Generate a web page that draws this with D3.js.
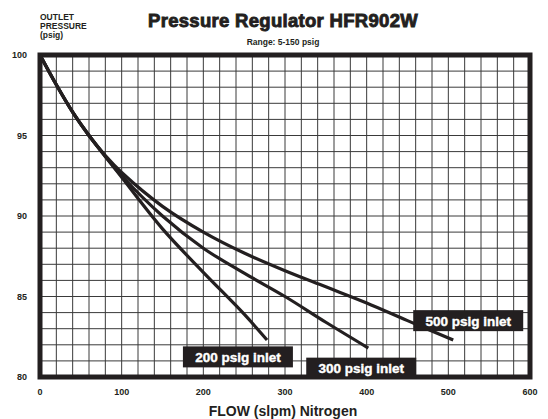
<!DOCTYPE html>
<html>
<head>
<meta charset="utf-8">
<script src="https://cdn.jsdelivr.net/npm/d3@7"></script>
<style>
  body { margin: 0; background: #fff; }
  svg { display: block; font-family: "Liberation Sans", Arial, sans-serif; }
</style>
</head>
<body>
<div id="chart"></div>
<script>
// ====================
// Data
// ====================
const xTicks = [0, 100, 200, 300, 400, 500, 600];
const yTicks = [80, 85, 90, 95, 100];

// flow (slpm) / outlet pressure (psig) for each inlet pressure
const flow200 = [0, 20, 40, 60, 80, 100, 150, 200, 250, 278];
const psig200 = [100, 98.15, 96.45, 95.0, 93.7, 92.4, 89.2, 86.5, 83.9, 82.3];

const flow300 = [0, 20, 40, 60, 80, 100, 150, 200, 250, 300, 350, 402];
const psig300 = [100, 98.15, 96.45, 95.0, 93.7, 92.5, 90.0, 88.0, 86.45, 85.0, 83.4, 81.8];

const flow500 = [0, 20, 40, 60, 80, 100, 150, 200, 250, 300, 350, 400, 450, 506];
const psig500 = [100, 98.15, 96.45, 95.0, 93.75, 92.7, 90.6, 89.0, 87.7, 86.6, 85.6, 84.6, 83.5, 82.3];

const seriesLabels = ["200 psig inlet", "300 psig inlet", "500 psig inlet"];

// ====================
// Chart
// ====================
const width = 548, height = 419;
const svg = d3.select("#chart").append("svg")
    .attr("width", width)
    .attr("height", height);

const x = d3.scaleLinear().domain([0, 600]).range([40, 530]);
const y = d3.scaleLinear().domain([80, 100]).range([377, 55]);

// grid
const grid = svg.append("g").attr("stroke", "#3a3a3a").attr("stroke-width", 1);
grid.selectAll("line.v")
    .data(d3.range(20, 600, 20))
    .join("line")
    .attr("x1", d => x(d)).attr("x2", d => x(d))
    .attr("y1", y(100)).attr("y2", y(80));
grid.selectAll("line.h")
    .data(d3.range(81, 100, 1))
    .join("line")
    .attr("y1", d => y(d)).attr("y2", d => y(d))
    .attr("x1", x(0)).attr("x2", x(600));

// frame
svg.append("rect")
    .attr("x", x(0)).attr("y", y(100))
    .attr("width", x(600) - x(0))
    .attr("height", y(80) - y(100))
    .attr("fill", "none")
    .attr("stroke", "#231f20")
    .attr("stroke-width", 5);

// curves
const line = d3.line()
    .x(d => x(d[0]))
    .y(d => y(d[1]))
    .curve(d3.curveCatmullRom.alpha(0.5));

const series = [
    d3.zip(flow200, psig200),
    d3.zip(flow300, psig300),
    d3.zip(flow500, psig500)
];

svg.append("g").selectAll("path")
    .data(series)
    .join("path")
    .attr("d", line)
    .attr("fill", "none")
    .attr("stroke", "#231f20")
    .attr("stroke-width", 3.2)
    .attr("stroke-linecap", "butt");

// label boxes (anchored by data: flow at box left, psig at box centre)
const labelPos = [[175, 81.25], [326, 80.55], [457, 83.5]];
const labels = svg.append("g");
labelPos.forEach((p, i) => {
    const g = labels.append("g")
        .attr("transform", `translate(${x(p[0])},${y(p[1])})`);
    g.append("rect")
        .attr("x", 0).attr("y", -10.5)
        .attr("width", 110).attr("height", 21)
        .attr("fill", "#231f20");
    g.append("text")
        .attr("x", 55).attr("y", 5)
        .attr("text-anchor", "middle")
        .attr("fill", "#fff")
        .attr("stroke", "#fff")
        .attr("stroke-width", 0.4)
        .attr("font-weight", "bold")
        .attr("font-size", 13.5)
        .text(seriesLabels[i]);
});

// axes labels
svg.append("g").selectAll("text")
    .data(xTicks)
    .join("text")
    .attr("x", d => x(d))
    .attr("y", 395)
    .attr("text-anchor", "middle")
    .attr("font-size", 9)
    .attr("font-weight", "bold")
    .attr("fill", "#231f20")
    .text(d => d);

svg.append("g").selectAll("text")
    .data(yTicks)
    .join("text")
    .attr("x", 27)
    .attr("y", d => y(d) + 3)
    .attr("text-anchor", "end")
    .attr("font-size", 9)
    .attr("font-weight", "bold")
    .attr("fill", "#231f20")
    .text(d => d);

// titles
svg.append("text")
    .attr("x", 283).attr("y", 27)
    .attr("text-anchor", "middle")
    .attr("font-size", 18.5)
    .attr("font-weight", "bold")
    .attr("fill", "#231f20")
    .attr("stroke", "#231f20")
    .attr("stroke-width", 0.9)
    .attr("letter-spacing", 0.3)
    .text("Pressure Regulator HFR902W");

svg.append("text")
    .attr("x", 283).attr("y", 45)
    .attr("text-anchor", "middle")
    .attr("font-size", 8.5)
    .attr("font-weight", "bold")
    .attr("fill", "#231f20")
    .text("Range: 5-150 psig");

const yTitle = svg.append("text")
    .attr("font-size", 8.5)
    .attr("font-weight", "bold")
    .attr("fill", "#231f20");
["OUTLET", "PRESSURE", "(psig)"].forEach((t, i) => {
    yTitle.append("tspan").attr("x", 40).attr("y", 20 + i * 9.2).text(t);
});

svg.append("text")
    .attr("x", 283).attr("y", 416)
    .attr("text-anchor", "middle")
    .attr("font-size", 14)
    .attr("font-weight", "bold")
    .attr("fill", "#231f20")
    .text("FLOW (slpm) Nitrogen");
</script>
</body>
</html>
